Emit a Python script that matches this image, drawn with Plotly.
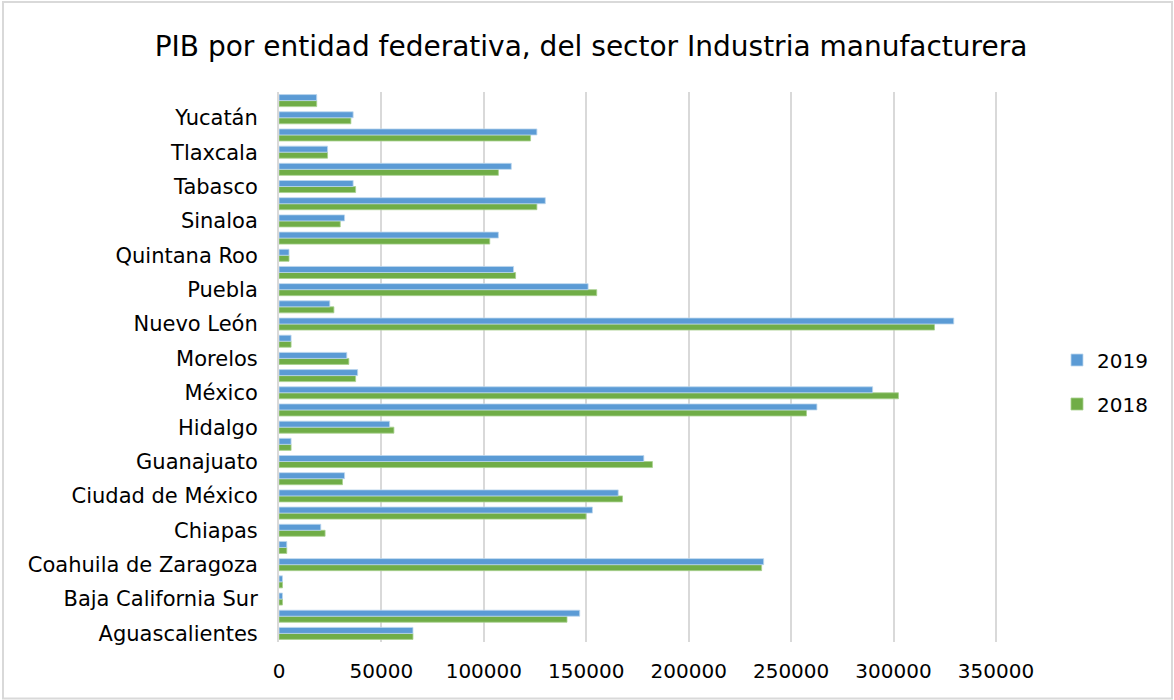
import plotly.graph_objects as go

estados = ["Aguascalientes", "Baja California", "Baja California Sur", "Campeche",
           "Coahuila de Zaragoza", "Colima", "Chiapas", "Chihuahua", "Ciudad de México",
           "Durango", "Guanajuato", "Guerrero", "Hidalgo", "Jalisco", "México",
           "Michoacán de Ocampo", "Morelos", "Nayarit", "Nuevo León", "Oaxaca", "Puebla",
           "Querétaro", "Quintana Roo", "San Luis Potosí", "Sinaloa", "Sonora", "Tabasco",
           "Tamaulipas", "Tlaxcala", "Veracruz", "Yucatán", "Zacatecas"]

pib_2019 = [65400, 146800, 1700, 1700, 236600, 3800, 20400, 153000, 165600,
            32000, 178100, 5900, 54000, 262600, 289800, 38400, 33100, 5900,
            329400, 24800, 150900, 114500, 4900, 107100, 32000, 130000, 36200,
            113400, 23700, 125900, 36200, 18400]

pib_2018 = [65400, 140600, 1700, 1700, 235600, 3800, 22500, 149900, 167700,
            31000, 182300, 5900, 56100, 257500, 302400, 37400, 34100, 5900,
            320000, 26800, 155100, 115500, 4900, 102900, 29900, 125900, 37400,
            107100, 23700, 122800, 35100, 18400]

# Every other category is labelled, as in the reference
etiquetas_val = estados[::2]
etiquetas_txt = ["Aguascalientes", "Baja California Sur", "Coahuila de Zaragoza", "Chiapas",
                 "Ciudad de México", "Guanajuato", "Hidalgo", "México", "Morelos",
                 "Nuevo León", "Puebla", "Quintana Roo", "Sinaloa", "Tabasco",
                 "Tlaxcala", "Yucatán"]

x_ticks = [0, 50000, 100000, 150000, 200000, 250000, 300000, 350000]

WIDE = "DejaVu Sans, Liberation Sans, sans-serif"

fig = go.Figure()
fig.add_trace(go.Bar(y=estados, x=pib_2018, orientation="h", name="2018",
                     marker=dict(color="#70AD47", line=dict(color="rgba(169,209,142,0.8)", width=1)),
                     legendgroup="g2018", legendrank=2))
fig.add_trace(go.Bar(y=estados, x=pib_2019, orientation="h", name="2019",
                     marker=dict(color="#5B9BD5", line=dict(color="rgba(189,215,238,0.8)", width=1)),
                     legendgroup="g2019", legendrank=1))

L, R, T, B = 279, 176, 92, 58
W, H = 1174, 700
pw = W - L - R
ph = H - T - B

fig.update_layout(
    width=W, height=H,
    margin=dict(l=L, r=R, t=T, b=B),
    paper_bgcolor="white", plot_bgcolor="white",
    barmode="group", bargap=0.3, bargroupgap=0.0,
    font=dict(family=WIDE, color="#000000", size=20),
    title=dict(text="PIB por entidad federativa, del sector Industria manufacturera",
               x=591 / W, xref="container", xanchor="center", y=1 - 46 / H, yanchor="middle",
               font=dict(size=28, family=WIDE, color="#000000")),
    legend=dict(x=(1057 - L) / pw, xanchor="left", y=(H - B - 382) / ph, yanchor="middle",
                traceorder="grouped", tracegroupgap=15,
                font=dict(size=20, family=WIDE, color="#000000"),
                bgcolor="rgba(0,0,0,0)"),
    xaxis=dict(range=[0, 351000], tickvals=x_ticks, ticktext=[str(v) for v in x_ticks],
               showgrid=True, gridcolor="#D9D9D9", gridwidth=2, zeroline=False,
               showline=False, ticks="", ticklabelstandoff=15,
               tickfont=dict(size=20, family=WIDE)),
    yaxis=dict(categoryorder="array", categoryarray=estados,
               tickmode="array", tickvals=etiquetas_val, ticktext=etiquetas_txt,
               showgrid=False, showline=True, linecolor="#D9D9D9", linewidth=2,
               ticks="", ticklabelstandoff=15, tickfont=dict(size=21, family=WIDE)),
    shapes=[dict(type="rect", xref="paper", yref="paper",
                 x0=(3 - L) / pw, x1=(W - 2 - L) / pw,
                 y0=(H - B - (H - 1.5)) / ph, y1=(H - B - 2) / ph,
                 line=dict(color="#D9D9D9", width=2), fillcolor="rgba(0,0,0,0)", layer="below")],
)

fig.write_html("out.html", config={"displayModeBar": False},
               post_script="document.body.style.margin='0';document.body.style.overflow='hidden';")
